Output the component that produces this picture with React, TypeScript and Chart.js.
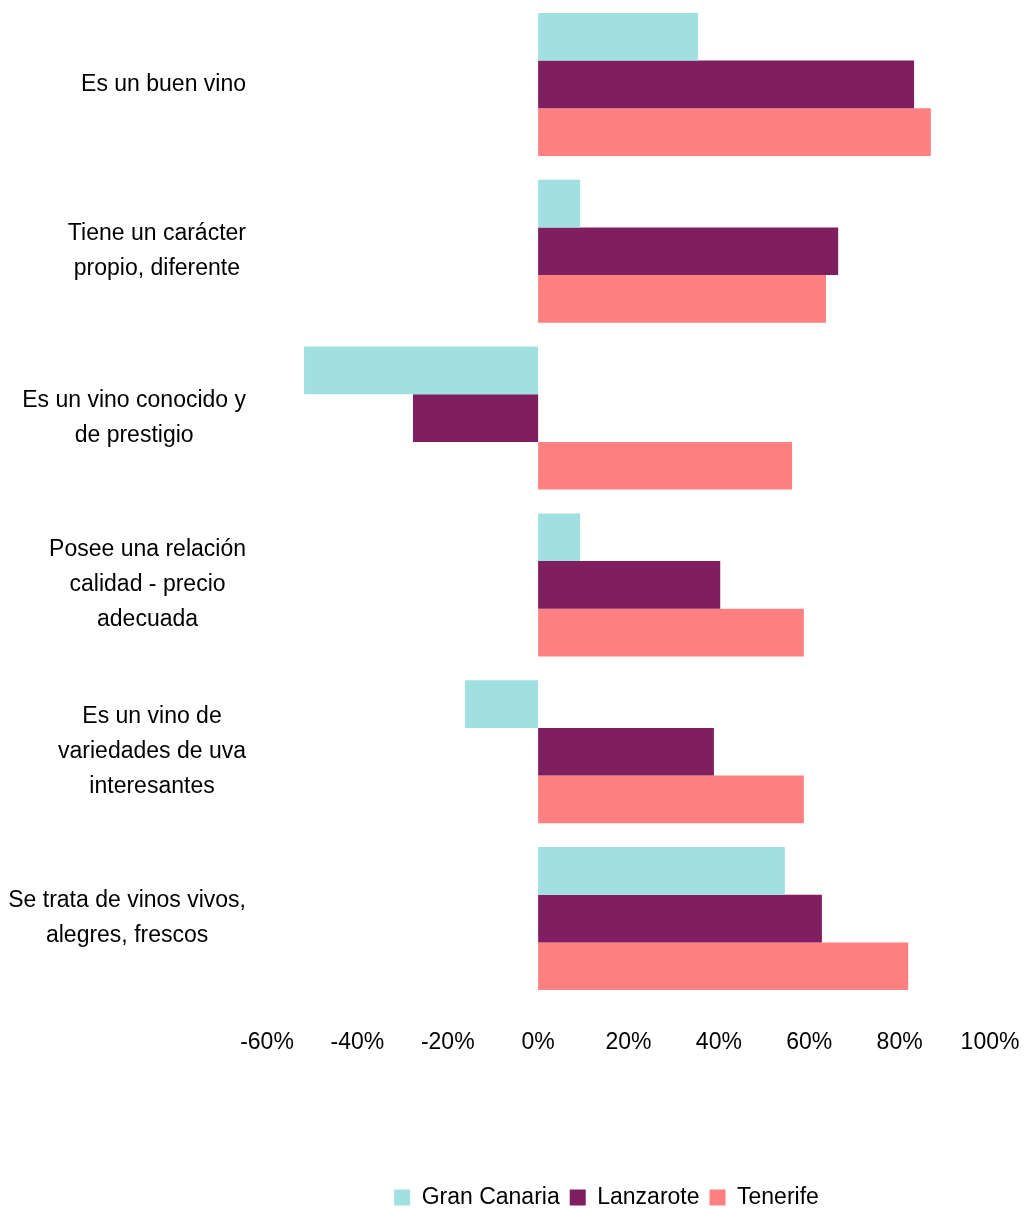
import React, { useEffect, useRef } from 'react';
import { Chart, registerables } from 'chart.js';

Chart.register(...registerables);

const FONT = "'Liberation Sans', Arial, sans-serif";

const categories: string[][] = [
  ['Es un buen vino'],
  ['Tiene un carácter', 'propio, diferente'],
  ['Es un vino conocido y', 'de prestigio'],
  ['Posee una relación', 'calidad - precio', 'adecuada'],
  ['Es un vino de', 'variedades de uva', 'interesantes'],
  ['Se trata de vinos vivos,', 'alegres, frescos'],
];

const seriesNames = ['Gran Canaria', 'Lanzarote', 'Tenerife'];
const granCanaria = [35.4, 9.3, -51.8, 9.3, -16.2, 54.6];
const lanzarote = [83.2, 66.4, -27.7, 40.3, 38.9, 62.8];
const tenerife = [86.9, 63.7, 56.2, 58.8, 58.8, 81.9];
const seriesColors = ['#A1E0E0', '#7F1F5F', '#FF8080'];

const xMin = -60;
const xMax = 100;
const xStep = 20;

const LABEL_RIGHT = 246;
const LINE_H = 35;

const yLabelPlugin = {
  id: 'yLabels',
  afterDraw(chart: any) {
    const ys = chart.scales.y;
    const ctx = chart.ctx;
    ctx.save();
    ctx.font = `23px ${FONT}`;
    ctx.fillStyle = '#000';
    ctx.textAlign = 'center';
    ctx.textBaseline = 'middle';
    categories.forEach((lines, i) => {
      const y = ys.getPixelForValue(i);
      const widest = Math.max(...lines.map((l) => ctx.measureText(l).width));
      const cx = LABEL_RIGHT - widest / 2;
      lines.forEach((l, j) => {
        ctx.fillText(l, cx, y + (j - (lines.length - 1) / 2) * LINE_H);
      });
    });
    ctx.restore();
  },
};

const legendShiftPlugin = {
  id: 'legendShift',
  afterLayout(chart: any) {
    const lg = chart.legend;
    if (lg) {
      lg.left -= 22;
      lg.right -= 22;
    }
  },
};

export default function App() {
  const ref = useRef<HTMLCanvasElement | null>(null);

  useEffect(() => {
    if (!ref.current) return;
    const data = [granCanaria, lanzarote, tenerife];
    const chart = new Chart(ref.current, {
      type: 'bar',
      data: {
        labels: categories.map((c) => c.join(' ')),
        datasets: seriesNames.map((name, i) => ({
          label: name,
          data: data[i],
          backgroundColor: seriesColors[i],
          borderWidth: 0,
          barPercentage: 1.0,
          categoryPercentage: 0.857,
        })),
      },
      options: {
        indexAxis: 'y',
        responsive: false,
        maintainAspectRatio: false,
        animation: false,
        events: [],
        layout: { padding: { left: 0, right: 38, top: 1, bottom: 0 } },
        scales: {
          x: {
            min: xMin,
            max: xMax,
            grid: { display: false, drawTicks: false },
            border: { display: false },
            ticks: {
              stepSize: xStep,
              padding: 27,
              color: '#000',
              font: { family: FONT, size: 23 },
              callback: (v: any) => `${v}%`,
            },
            afterFit: (s: any) => {
              s.height = 174;
              s.paddingLeft = 0;
              s.paddingRight = 0;
            },
          },
          y: {
            grid: { display: false, drawTicks: false },
            border: { display: false },
            ticks: { display: false },
            afterFit: (s: any) => {
              s.width = 267;
            },
          },
        },
        plugins: {
          legend: {
            position: 'bottom',
            fullSize: false,
            labels: {
              boxWidth: 16,
              boxHeight: 16,
              padding: 10,
              color: '#000',
              font: { family: FONT, size: 23 },
            },
          },
          tooltip: { enabled: false },
        },
      },
      plugins: [yLabelPlugin, legendShiftPlugin],
    } as any);
    return () => chart.destroy();
  }, []);

  return (
    <div
      style={{
        position: 'fixed',
        left: 0,
        top: 0,
        width: 1028,
        height: 1208,
        overflow: 'hidden',
        background: '#fff',
      }}
    >
      <canvas ref={ref} width={1028} height={1219} style={{ display: 'block' }} />
    </div>
  );
}
